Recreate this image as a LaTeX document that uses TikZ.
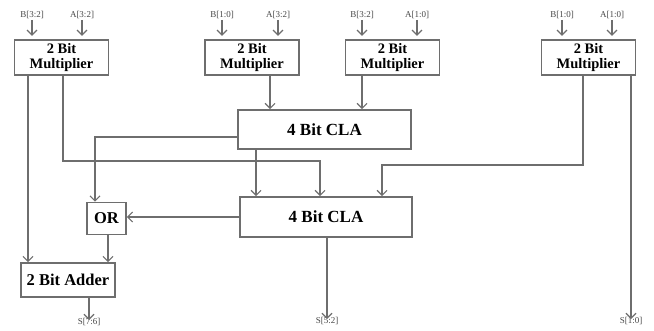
\documentclass[tikz,border=0pt]{standalone}
\usepackage{fontspec}
\setmainfont{Liberation Serif}
\usepackage{xcolor}
\usepackage{tikz}
\usetikzlibrary{arrows.meta,positioning}
\definecolor{wiregray}{RGB}{110,110,110}
\definecolor{labelgray}{RGB}{70,70,70}

\begin{document}
\begin{tikzpicture}[
    x=1pt, y=-1pt,
    every node/.style={align=center, inner sep=0pt},
    multbox/.style={rectangle, draw=wiregray, line width=1.6pt, minimum width=94pt, minimum height=35pt, font=\fontsize{14.5}{15.5}\selectfont\bfseries},
    clabox/.style={rectangle, draw=wiregray, line width=1.6pt, minimum width=173pt, minimum height=39pt, font=\fontsize{17}{18}\selectfont\bfseries},
    smallbox/.style={rectangle, draw=wiregray, line width=1.6pt, font=\fontsize{16.5}{18}\selectfont\bfseries},
    sig/.style={font=\fontsize{9}{10}\selectfont, text=labelgray},
    arr/.style={-{Straight Barb[length=5pt, width=10pt, line width=1.2pt]}, line width=1.4pt, draw=wiregray}
]
\useasboundingbox (0,0) rectangle (654,331);

\node[multbox] (mulA) at (61.5,57.5) {2 Bit\\Multiplier};
\node[multbox] (mulB) at (252,57.5) {2 Bit\\Multiplier};
\node[multbox] (mulC) at (392.5,57.5) {2 Bit\\Multiplier};
\node[multbox] (mulD) at (588.5,57.5) {2 Bit\\Multiplier};
\node[clabox] (claA) at (324.5,129.5) {4 Bit CLA};
\node[clabox, minimum width=172pt, minimum height=40pt] (claB) at (326,217) {4 Bit CLA};
\node[smallbox, minimum width=39pt, minimum height=32pt] (orgate) at (106.5,218.5) {OR};
\node[smallbox, minimum width=94pt, minimum height=34pt] (adder) at (68,280) {2 Bit Adder};

\node[sig] (inAb) at (32,15) {B[3:2]};
\node[sig] (inAa) at (82,15) {A[3:2]};
\node[sig] (inBb) at (222,15) {B[1:0]};
\node[sig] (inBa) at (278,15) {A[3:2]};
\node[sig] (inCb) at (362,15) {B[3:2]};
\node[sig] (inCa) at (417,15) {A[1:0]};
\node[sig] (inDb) at (562,15) {B[1:0]};
\node[sig] (inDa) at (612,15) {A[1:0]};
\node[sig] (outHi) at (89,322) {S[7:6]};
\node[sig] (outMid) at (327,321) {S[5:2]};
\node[sig] (outLo) at (631,321) {S[1:0]};

\foreach \n in {inAb,inAa,inBb,inBa,inCb,inCa,inDb,inDa}
  \draw[arr] ([yshift=-1pt]\n.south) -- ++(0,16);

\draw[arr] (mulA.south -| 28,0) -- (adder.north -| 28,0);
\draw[arr] (mulA.south -| 63,0) |- (320,161) -- (claB.north -| 320,0);
\draw[arr] (mulB.south -| 270,0) -- (claA.north -| 270,0);
\draw[arr] (mulC.south -| 362,0) -- (claA.north -| 362,0);
\draw[arr] (mulD.south -| 583,0) |- (382,165) -- (claB.north -| 382,0);
\draw[arr] (mulD.south -| 631,0) -- ([yshift=-2pt]outLo.north);
\draw[arr] (claA.west |- 0,137) -| (orgate.north -| 95,0);
\draw[arr] (claA.south -| 256,0) -- (claB.north -| 256,0);
\draw[arr] (claB.west) -- (claB.west -| orgate.east);
\draw[arr] (claB.south -| 327,0) -- ([yshift=-2pt]outMid.north);
\draw[arr] (orgate.south -| 108,0) -- (adder.north -| 108,0);
\draw[arr] (adder.south -| 89,0) -- ([yshift=-2pt]outHi.north);

\end{tikzpicture}
\end{document}
